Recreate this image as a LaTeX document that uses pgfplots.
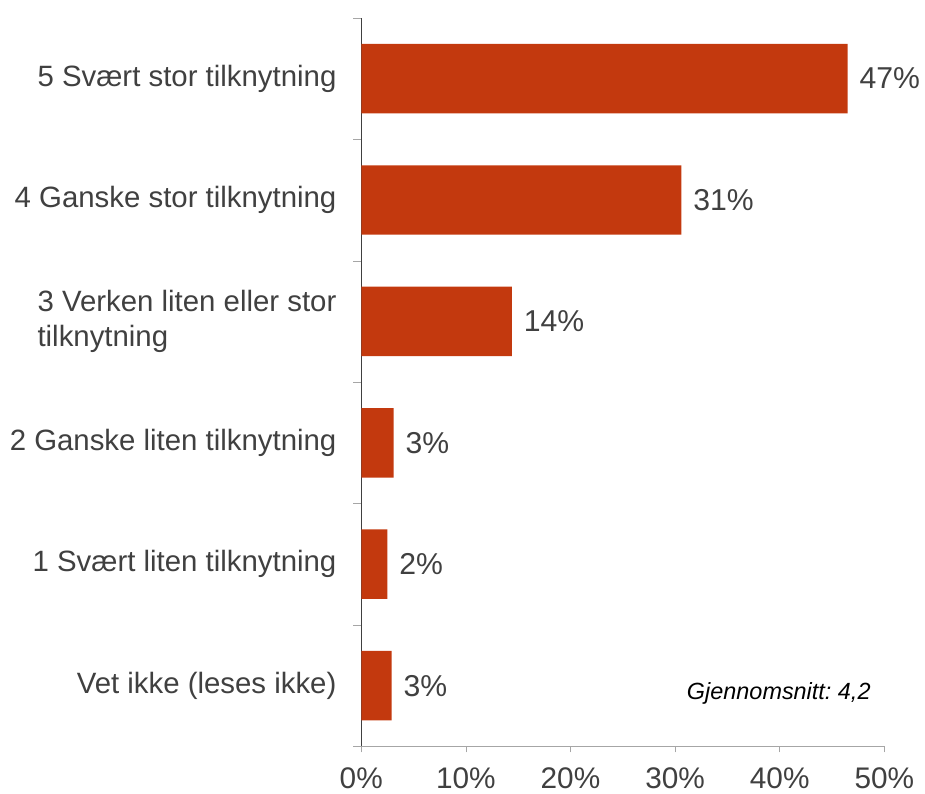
\documentclass[border=0pt]{standalone}
\usepackage{fontspec}
\setmainfont{Liberation Sans}
\usepackage{pgfplots}
\pgfplotsset{compat=1.18}
\definecolor{barred}{HTML}{C3390E}
\definecolor{txt}{HTML}{404040}
\frenchspacing
\begin{document}
\begin{tikzpicture}
\path[use as bounding box] (-182pt,-24pt) rectangle (284pt,376pt);
\begin{axis}[
  at={(0,0)}, anchor=south west,
  scale only axis, width=263.5pt, height=367pt,
  xbar, bar width=35pt,
  xmin=0, xmax=50, ymin=-0.5, ymax=5.5,
  axis x line*=bottom, axis y line*=left,
  x axis line style={gray!70},
  y axis line style={black!75},
  tick align=outside,
  major tick length=3pt, minor tick length=4pt,
  xtick={0,10,...,50},
  xticklabels={0\%,10\%,20\%,30\%,40\%,50\%},
  major x tick style={gray!70},
  xticklabel style={font=\fontsize{15}{18}\selectfont, text=txt, yshift=-4pt},
  ytick={0,...,5},
  yticklabels={Vet ikke (leses ikke),1 Svært liten tilknytning,2 Ganske liten tilknytning,{3 Verken liten eller stor\\tilknytning},4 Ganske stor tilknytning,5 Svært stor tilknytning},
  minor ytick={-0.5,0.5,...,5.5},
  major y tick style={draw=none},
  minor y tick style={gray!70},
  yticklabel style={font=\fontsize{14.8}{17.5}\selectfont, text=txt, align=left, xshift=-6pt},
  nodes near coords={\pgfplotspointmeta\%},
  point meta=explicit symbolic,
  every node near coord/.append style={font=\fontsize{15.2}{18}\selectfont, text=txt, anchor=west, xshift=2.5pt},
  clip=false,
]
\addplot[fill=barred, draw=none] coordinates {
  (2.9,0) [3]
  (2.5,1) [2]
  (3.1,2) [3]
  (14.4,3) [14]
  (30.6,4) [31]
  (46.5,5) [47]
};
\node[anchor=west, inner sep=0pt, font=\fontsize{11.8}{14}\selectfont\itshape] at (axis cs:31.1,-0.065) {Gjennomsnitt: 4,2};
\end{axis}
\end{tikzpicture}
\end{document}
